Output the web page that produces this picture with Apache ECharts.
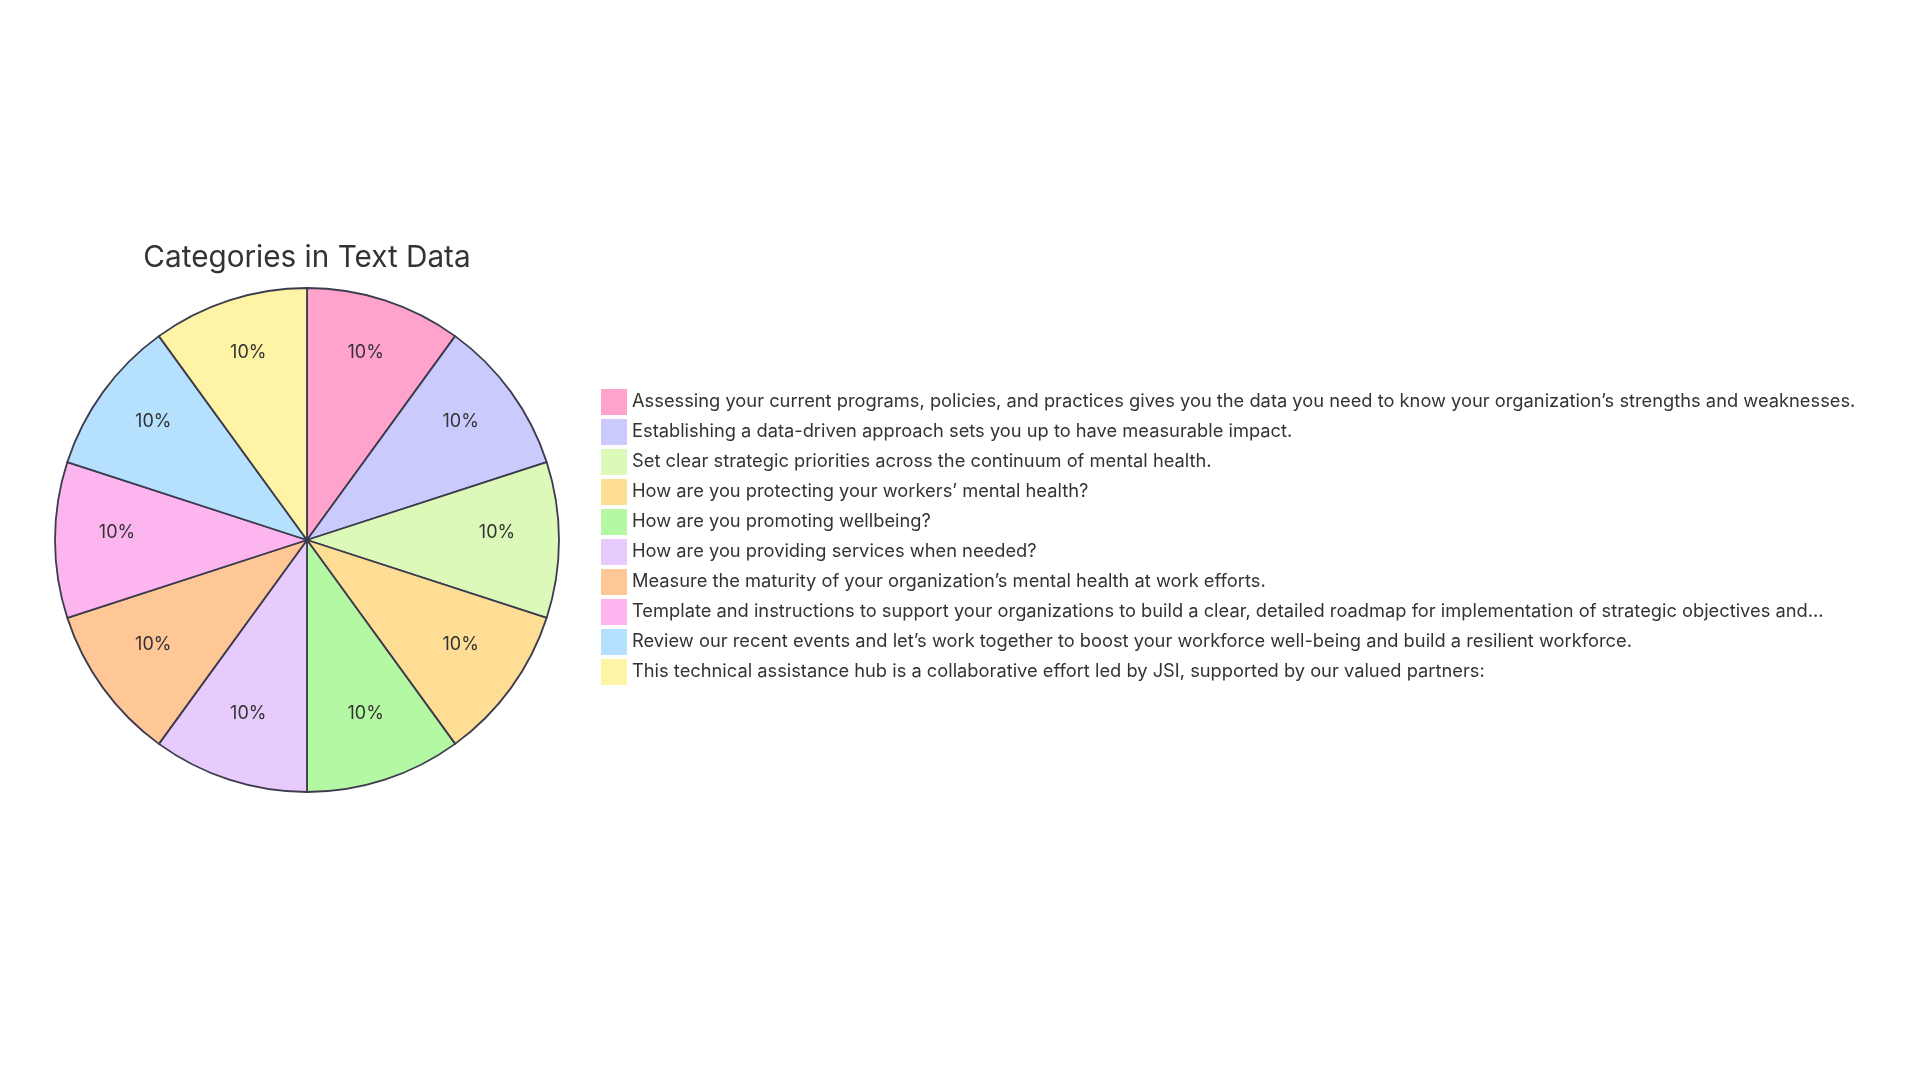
<!DOCTYPE html>
<html>
<head>
<meta charset="utf-8">
<script src="https://cdn.jsdelivr.net/npm/echarts@6/dist/echarts.min.js"></script>
<style>
html,body{margin:0;padding:0;background:#fff;}
#chart{width:1920px;height:1080px;}
</style>
</head>
<body>
<div id="chart"></div>
<script>
const titleText = 'Categories in Text Data';
const categories = [
  'Assessing your current programs, policies, and practices gives you the data you need to know your organization\u2019s strengths and weaknesses.',
  'Establishing a data-driven approach sets you up to have measurable impact.',
  'Set clear strategic priorities across the continuum of mental health.',
  'How are you protecting your workers\u2019 mental health?',
  'How are you promoting wellbeing?',
  'How are you providing services when needed?',
  'Measure the maturity of your organization\u2019s mental health at work efforts.',
  'Template and instructions to support your organizations to build a clear, detailed roadmap for implementation of strategic objectives and...',
  'Review our recent events and let\u2019s work together to boost your workforce well-being and build a resilient workforce.',
  'This technical assistance hub is a collaborative effort led by JSI, supported by our valued partners:'
];
const values = [10, 10, 10, 10, 10, 10, 10, 10, 10, 10];
const colors = ['#FFA3CC', '#CACBFC', '#DDF9BA', '#FEDE95', '#B4F8A4', '#E6CBFC', '#FEC795', '#FDB5F0', '#B5E0FE', '#FFF3A5'];

const FONT = 'Inter';
const data = categories.map((c, i) => ({ name: c, value: values[i] }));

const chart = echarts.init(document.getElementById('chart'));
chart.setOption({
  backgroundColor: '#ffffff',
  color: colors,
  animation: false,
  title: {
    text: titleText,
    left: 302,
    top: 238,
    textAlign: 'center',
    textStyle: { fontFamily: FONT, fontSize: 29.7, fontWeight: 'normal', color: '#333333' }
  },
  legend: {
    orient: 'vertical',
    left: 601,
    top: 389,
    padding: 0,
    itemWidth: 26,
    itemHeight: 26,
    itemGap: 4,
    icon: 'rect',
    selectedMode: false,
    itemStyle: { borderWidth: 0 },
    textStyle: { fontFamily: FONT, fontSize: 18.3, color: '#333333' },
    data: categories
  },
  series: [
    {
      type: 'pie',
      center: [307, 540],
      radius: [0, 252],
      startAngle: 90,
      clockwise: true,
      silent: true,
      label: { show: false },
      labelLine: { show: false },
      itemStyle: { borderColor: '#3c3c4e', borderWidth: 1.8 },
      data: data
    },
    {
      type: 'pie',
      center: [307, 540],
      radius: [122, 252],
      startAngle: 90,
      clockwise: true,
      silent: true,
      legendHoverLink: false,
      itemStyle: { color: 'rgba(0,0,0,0)', borderWidth: 0 },
      label: {
        show: true,
        position: 'inside',
        formatter: p => Math.round(p.percent) + '%',
        fontFamily: FONT,
        fontSize: 18,
        color: '#333333'
      },
      labelLayout: { dy: -7 },
      labelLine: { show: false },
      data: data
    }
  ]
});
</script>
</body>
</html>
